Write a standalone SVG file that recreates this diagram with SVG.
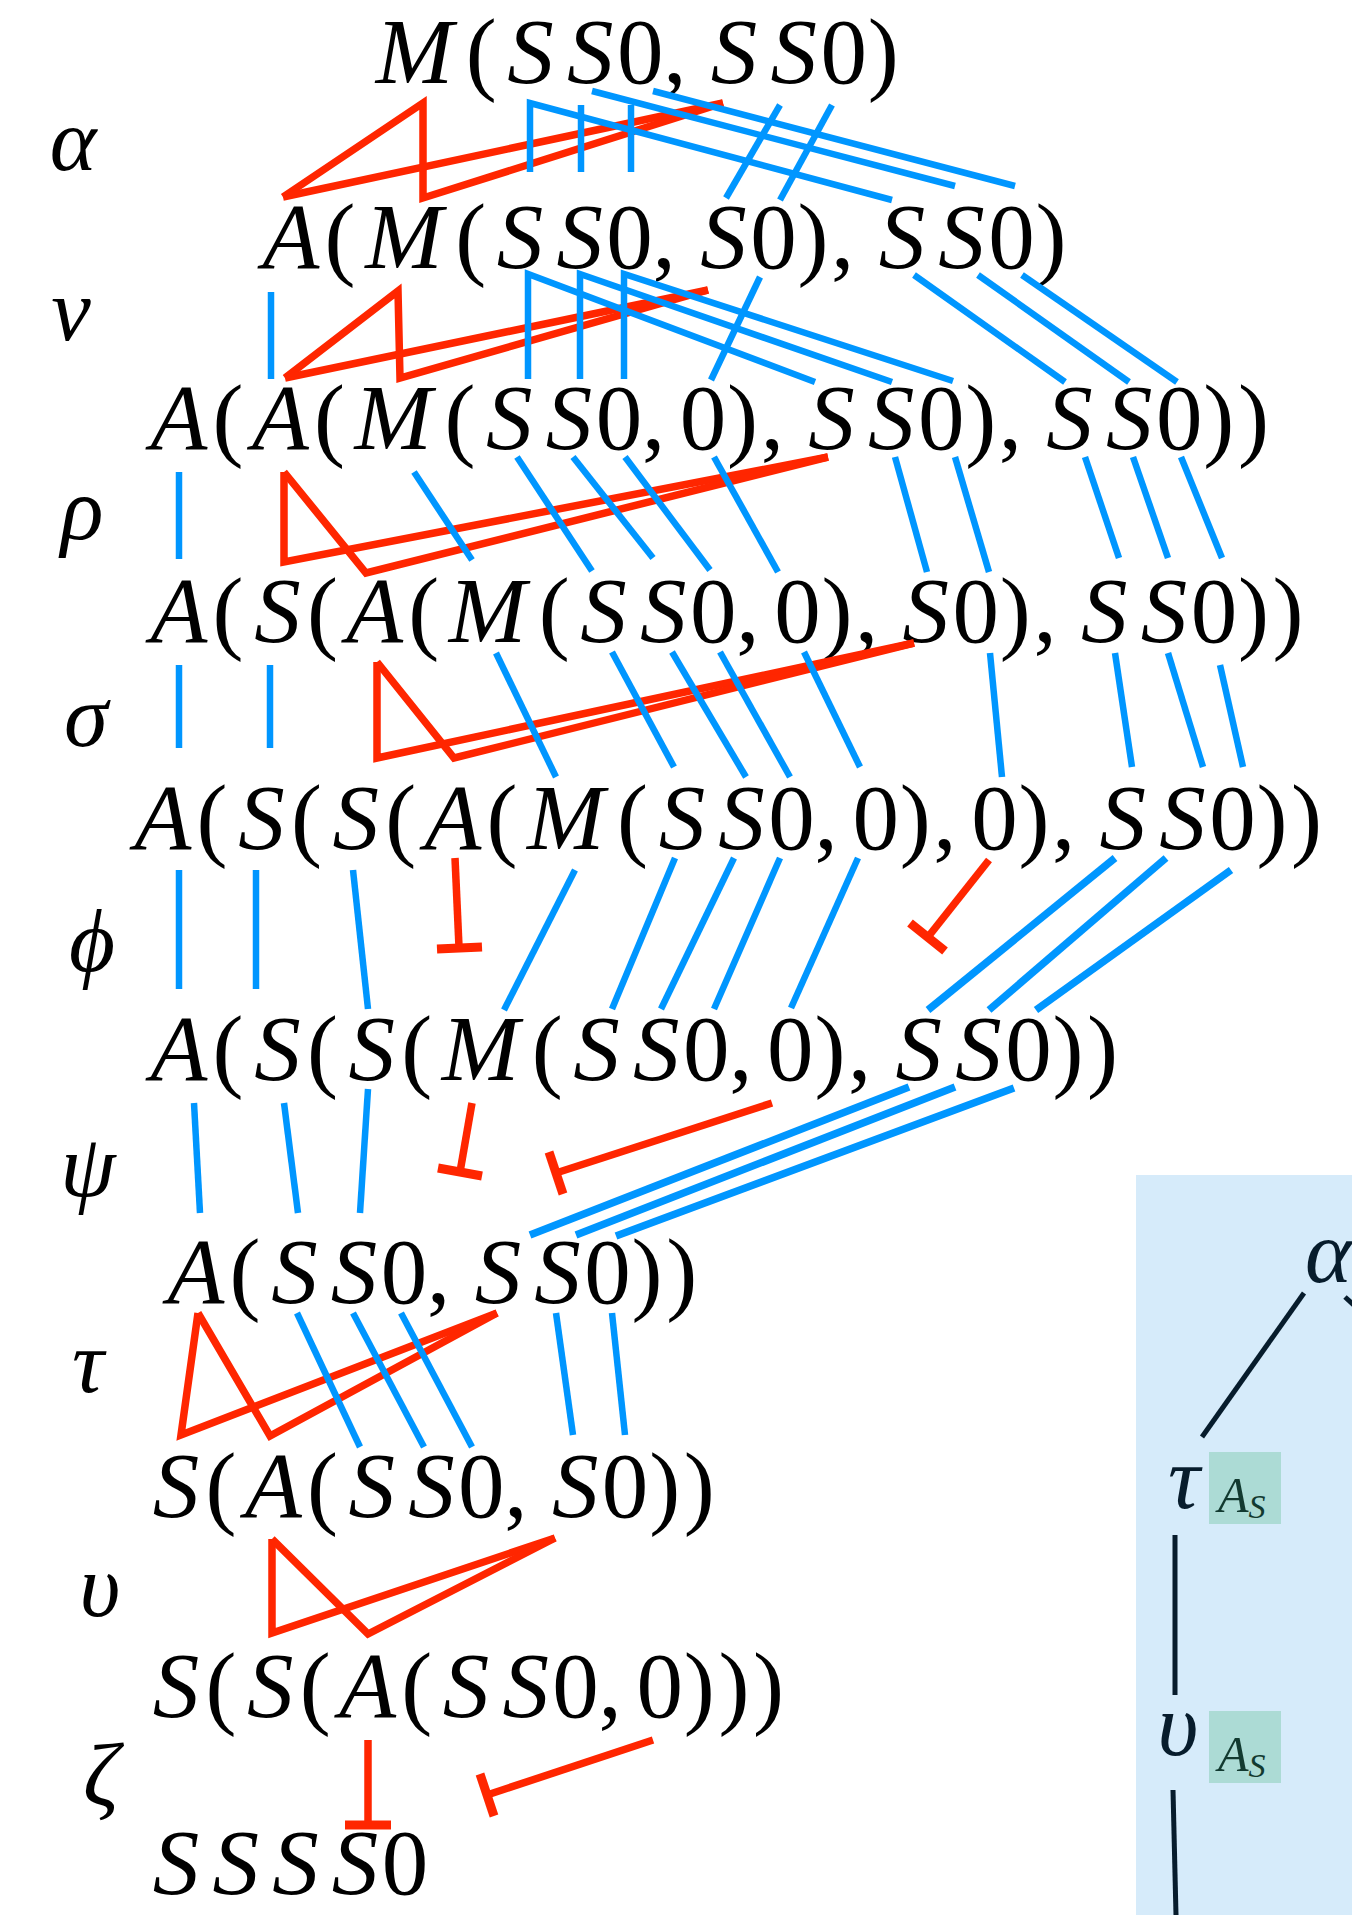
<svg xmlns="http://www.w3.org/2000/svg" width="1352" height="1915" viewBox="0 0 1352 1915">
<style>
.t{font-size:93px;fill:#000;text-anchor:middle}
.g{font-size:89px;fill:#000;text-anchor:middle}
.b{stroke:#0096ff;stroke-width:6.5;fill:none;stroke-linecap:butt;stroke-linejoin:miter}
.bw{stroke-width:7.5}
.r{stroke:#ff2600;stroke-width:7.5;fill:none;stroke-linecap:butt;stroke-linejoin:miter;stroke-miterlimit:20}
.rb{stroke:#ff2600;stroke-width:9;fill:none;stroke-linecap:butt}
.k{stroke:#071c2c;stroke-width:5;fill:none}
.pg{fill:#071c2c}
.as{fill:#123a30}
</style>
<rect width="1352" height="1915" fill="#fff"/>

<g id="row1">
<text class="t" y="83" font-family="Liberation Serif" font-style="italic"><tspan x="414.5">M</tspan><tspan x="530.6">S</tspan><tspan x="590.3">S</tspan><tspan x="734.1">S</tspan><tspan x="793.8">S</tspan></text>
<text class="t" y="83" font-family="Liberation Serif" font-style="normal"><tspan x="481.3">(</tspan><tspan x="640.3">0</tspan><tspan x="674.9">,</tspan><tspan x="843.8">0</tspan><tspan x="883.3">)</tspan></text>
</g>
<g id="row2">
<text class="t" y="268" font-family="Liberation Serif" font-style="italic"><tspan x="291">A</tspan><tspan x="403.9">M</tspan><tspan x="520">S</tspan><tspan x="579.7">S</tspan><tspan x="723.5">S</tspan><tspan x="901.9">S</tspan><tspan x="961.6">S</tspan></text>
<text class="t" y="268" font-family="Liberation Serif" font-style="normal"><tspan x="340.1">(</tspan><tspan x="470.7">(</tspan><tspan x="629.6">0</tspan><tspan x="664.2">,</tspan><tspan x="773.4">0</tspan><tspan x="813">)</tspan><tspan x="842.6">,</tspan><tspan x="1011.5">0</tspan><tspan x="1051.1">)</tspan></text>
</g>
<g id="row3">
<text class="t" y="449" font-family="Liberation Serif" font-style="italic"><tspan x="179">A</tspan><tspan x="280.4">A</tspan><tspan x="393.2">M</tspan><tspan x="509.3">S</tspan><tspan x="569">S</tspan><tspan x="831.5">S</tspan><tspan x="891.2">S</tspan><tspan x="1069.6">S</tspan><tspan x="1129.3">S</tspan></text>
<text class="t" y="449" font-family="Liberation Serif" font-style="normal"><tspan x="228.1">(</tspan><tspan x="329.4">(</tspan><tspan x="460">(</tspan><tspan x="619">0</tspan><tspan x="653.6">,</tspan><tspan x="703.1">0</tspan><tspan x="742.6">)</tspan><tspan x="772.3">,</tspan><tspan x="941.2">0</tspan><tspan x="980.7">)</tspan><tspan x="1010.4">,</tspan><tspan x="1179.3">0</tspan><tspan x="1218.8">)</tspan><tspan x="1253.4">)</tspan></text>
</g>
<g id="row4">
<text class="t" y="642" font-family="Liberation Serif" font-style="italic"><tspan x="179">A</tspan><tspan x="277.4">S</tspan><tspan x="374.7">A</tspan><tspan x="487.5">M</tspan><tspan x="603.6">S</tspan><tspan x="663.3">S</tspan><tspan x="925.8">S</tspan><tspan x="1104.2">S</tspan><tspan x="1163.9">S</tspan></text>
<text class="t" y="642" font-family="Liberation Serif" font-style="normal"><tspan x="228.1">(</tspan><tspan x="322.4">(</tspan><tspan x="423.7">(</tspan><tspan x="554.3">(</tspan><tspan x="713.3">0</tspan><tspan x="747.9">,</tspan><tspan x="797.4">0</tspan><tspan x="836.9">)</tspan><tspan x="866.6">,</tspan><tspan x="975.8">0</tspan><tspan x="1015.3">)</tspan><tspan x="1045">,</tspan><tspan x="1213.9">0</tspan><tspan x="1253.4">)</tspan><tspan x="1288">)</tspan></text>
</g>
<g id="row5">
<text class="t" y="849" font-family="Liberation Serif" font-style="italic"><tspan x="163">A</tspan><tspan x="261.4">S</tspan><tspan x="355.7">S</tspan><tspan x="453">A</tspan><tspan x="565.8">M</tspan><tspan x="681.9">S</tspan><tspan x="741.6">S</tspan><tspan x="1122.8">S</tspan><tspan x="1182.5">S</tspan></text>
<text class="t" y="849" font-family="Liberation Serif" font-style="normal"><tspan x="212.1">(</tspan><tspan x="306.4">(</tspan><tspan x="400.7">(</tspan><tspan x="502">(</tspan><tspan x="632.6">(</tspan><tspan x="791.6">0</tspan><tspan x="826.2">,</tspan><tspan x="875.7">0</tspan><tspan x="915.2">)</tspan><tspan x="944.9">,</tspan><tspan x="994.4">0</tspan><tspan x="1033.9">)</tspan><tspan x="1063.6">,</tspan><tspan x="1232.5">0</tspan><tspan x="1272">)</tspan><tspan x="1306.6">)</tspan></text>
</g>
<g id="row6">
<text class="t" y="1080" font-family="Liberation Serif" font-style="italic"><tspan x="179">A</tspan><tspan x="277.4">S</tspan><tspan x="371.7">S</tspan><tspan x="480.5">M</tspan><tspan x="596.6">S</tspan><tspan x="656.3">S</tspan><tspan x="918.8">S</tspan><tspan x="978.5">S</tspan></text>
<text class="t" y="1080" font-family="Liberation Serif" font-style="normal"><tspan x="228.1">(</tspan><tspan x="322.4">(</tspan><tspan x="416.7">(</tspan><tspan x="547.3">(</tspan><tspan x="706.2">0</tspan><tspan x="740.8">,</tspan><tspan x="790.3">0</tspan><tspan x="829.9">)</tspan><tspan x="859.5">,</tspan><tspan x="1028.4">0</tspan><tspan x="1068">)</tspan><tspan x="1102.6">)</tspan></text>
</g>
<g id="row7">
<text class="t" y="1303" font-family="Liberation Serif" font-style="italic"><tspan x="196">A</tspan><tspan x="294.4">S</tspan><tspan x="354.1">S</tspan><tspan x="497.9">S</tspan><tspan x="557.6">S</tspan></text>
<text class="t" y="1303" font-family="Liberation Serif" font-style="normal"><tspan x="245.1">(</tspan><tspan x="404">0</tspan><tspan x="438.6">,</tspan><tspan x="607.5">0</tspan><tspan x="647.1">)</tspan><tspan x="681.7">)</tspan></text>
</g>
<g id="row8">
<text class="t" y="1517" font-family="Liberation Serif" font-style="italic"><tspan x="176">S</tspan><tspan x="273.3">A</tspan><tspan x="371.7">S</tspan><tspan x="431.4">S</tspan><tspan x="575.2">S</tspan></text>
<text class="t" y="1517" font-family="Liberation Serif" font-style="normal"><tspan x="221">(</tspan><tspan x="322.4">(</tspan><tspan x="481.3">0</tspan><tspan x="515.9">,</tspan><tspan x="625.1">0</tspan><tspan x="664.7">)</tspan><tspan x="699.3">)</tspan></text>
</g>
<g id="row9">
<text class="t" y="1717" font-family="Liberation Serif" font-style="italic"><tspan x="176">S</tspan><tspan x="270.3">S</tspan><tspan x="367.6">A</tspan><tspan x="466">S</tspan><tspan x="525.7">S</tspan></text>
<text class="t" y="1717" font-family="Liberation Serif" font-style="normal"><tspan x="221">(</tspan><tspan x="315.3">(</tspan><tspan x="416.7">(</tspan><tspan x="575.6">0</tspan><tspan x="610.2">,</tspan><tspan x="659.7">0</tspan><tspan x="699.3">)</tspan><tspan x="733.9">)</tspan><tspan x="768.5">)</tspan></text>
</g>
<g id="row10">
<text class="t" y="1894" font-family="Liberation Serif" font-style="italic"><tspan x="176">S</tspan><tspan x="235.7">S</tspan><tspan x="295.4">S</tspan><tspan x="355.1">S</tspan></text>
<text class="t" y="1894" font-family="Liberation Serif" font-style="normal"><tspan x="405">0</tspan></text>
</g>

<g id="labels">
<g id="label-alpha"><text class="g" x="73" y="170" font-family="Liberation Serif" font-style="italic">α</text></g>
<g id="label-nu"><text class="g" x="71" y="340" font-family="Liberation Serif" font-style="italic">ν</text></g>
<g id="label-rho"><text class="g" x="82" y="539" font-family="Liberation Serif" font-style="italic">ρ</text></g>
<g id="label-sigma"><text class="g" x="86" y="746" font-family="Liberation Serif" font-style="italic">σ</text></g>
<g id="label-phi"><text class="g" x="92" y="971" font-family="Liberation Serif" font-style="italic">ϕ</text></g>
<g id="label-psi"><text class="g" x="88" y="1196" font-family="Liberation Serif" font-style="italic">ψ</text></g>
<g id="label-tau"><text class="g" x="88" y="1392" font-family="Liberation Serif" font-style="italic">τ</text></g>
<g id="label-upsilon"><text class="g" x="100" y="1616" font-family="Liberation Serif" font-style="italic">υ</text></g>
<g id="label-zeta"><text class="g" x="101" y="1805" font-family="Liberation Serif" font-style="italic">ζ</text></g>
</g>

<g id="panel">
<rect x="1136" y="1175" width="216" height="740" fill="#d6ebfa"/>
<text class="pg" x="1305" y="1282" font-size="89" font-family="Liberation Serif" font-style="italic">α</text>
<line class="k" x1="1304" y1="1293" x2="1202" y2="1437"/>
<line class="k" x1="1345" y1="1297" x2="1370" y2="1320"/>
<text class="pg" x="1184" y="1508" font-size="89" text-anchor="middle" font-family="Liberation Serif" font-style="italic">τ</text>
<rect x="1209" y="1452" width="72" height="72" fill="#acdbd5"/>
<text class="as" x="1218" y="1512" font-size="50" font-family="Liberation Serif" font-style="italic">A<tspan font-size="34" dy="6">S</tspan></text>
<line class="k" x1="1175" y1="1535" x2="1175" y2="1695"/>
<text class="pg" x="1178" y="1755" font-size="89" text-anchor="middle" font-family="Liberation Serif" font-style="italic">υ</text>
<rect x="1209" y="1711" width="72" height="72" fill="#acdbd5"/>
<text class="as" x="1218" y="1771" font-size="50" font-family="Liberation Serif" font-style="italic">A<tspan font-size="34" dy="6">S</tspan></text>
<line class="k" x1="1173" y1="1790" x2="1176" y2="1915"/>
</g>

<g id="connectors">
<g id="band-alpha">
<path class="r" d="M283,197 L423,103 L423,198 L723,103"/>
<path class="r" d="M283,197 L723,103"/>
<path class="b" d="M530,172 L530,103 L892,200"/>
<path class="b" d="M581,105 L581,172"/>
<path class="b" d="M631,105 L631,172"/>
<path class="b" d="M592,91 L955,186"/>
<path class="b" d="M653,91 L1015,186"/>
<path class="b" d="M780,105 L726,198"/>
<path class="b" d="M832,105 L780,200"/>
</g>
<g id="band-nu">
<path class="b" d="M271,292 L271,379"/>
<path class="r" d="M285,378 L398,291 L400,378 L708,290"/>
<path class="r" d="M285,378 L708,290"/>
<path class="b" d="M528,379 L528,274 L815,382"/>
<path class="b" d="M580,379 L580,274 L892,382"/>
<path class="b" d="M624,379 L624,274 L953,381"/>
<path class="b" d="M760,277 L711,380"/>
<path class="b" d="M914,275 L1065,382"/>
<path class="b" d="M978,275 L1129,382"/>
<path class="b" d="M1022,275 L1177,382"/>
</g>
<g id="band-rho">
<path class="b" d="M179,472 L179,559"/>
<path class="r" d="M284,472 L284,562 L828,457"/>
<path class="r" d="M284,472 L366,573 L828,457"/>
<path class="b" d="M414,472 L472,560"/>
<path class="b" d="M517,457 L592,571"/>
<path class="b" d="M573,457 L653,558"/>
<path class="b" d="M625,457 L710,570"/>
<path class="b" d="M714,457 L778,572"/>
<path class="b" d="M895,457 L927,572"/>
<path class="b" d="M955,457 L989,572"/>
<path class="b" d="M1085,457 L1119,558"/>
<path class="b" d="M1133,457 L1168,558"/>
<path class="b" d="M1181,457 L1222,558"/>
</g>
<g id="band-sigma">
<path class="b" d="M179,665 L179,748"/>
<path class="b" d="M270,665 L270,748"/>
<path class="r" d="M377,662 L377,758 L914,643"/>
<path class="r" d="M377,662 L454,758 L914,643"/>
<path class="b" d="M496,653 L556,777"/>
<path class="b" d="M612,652 L674,767"/>
<path class="b" d="M672,652 L746,777"/>
<path class="b" d="M720,652 L790,777"/>
<path class="b" d="M804,652 L860,767"/>
<path class="b" d="M990,653 L1002,777"/>
<path class="b" d="M1115,653 L1132,767"/>
<path class="b" d="M1168,653 L1203,767"/>
<path class="b" d="M1220,665 L1243,767"/>
</g>
<g id="band-phi">
<path class="b" d="M179,870 L179,989"/>
<path class="b" d="M256,870 L256,989"/>
<path class="b" d="M353,870 L368,1009"/>
<path class="r" d="M455,858 L459,947"/>
<path class="rb" d="M437,949 L482,947"/>
<path class="b" d="M575,870 L504,1010"/>
<path class="b" d="M675,858 L612,1009"/>
<path class="b" d="M734,858 L661,1009"/>
<path class="b" d="M780,858 L714,1009"/>
<path class="b" d="M858,858 L791,1008"/>
<path class="r" d="M989,860 L928,937"/>
<path class="rb" d="M910,923 L945,951"/>
<path class="b bw" d="M1115,858 L928,1010"/>
<path class="b bw" d="M1166,858 L989,1010"/>
<path class="b bw" d="M1231,870 L1036,1010"/>
</g>
<g id="band-psi">
<path class="b" d="M194,1103 L200,1213"/>
<path class="b" d="M284,1103 L298,1213"/>
<path class="b" d="M368,1089 L360,1213"/>
<path class="r" d="M472,1103 L460,1172"/>
<path class="rb" d="M438,1168 L482,1176"/>
<path class="r" d="M772,1103 L556,1173"/>
<path class="rb" d="M549,1152 L563,1194"/>
<path class="b bw" d="M909,1087 L530,1235"/>
<path class="b bw" d="M955,1087 L576,1235"/>
<path class="b bw" d="M1014,1088 L616,1236"/>
</g>
<g id="band-tau">
<path class="r" d="M198,1313 L181,1435 L497,1313"/>
<path class="r" d="M198,1313 L270,1436 L497,1313"/>
<path class="b" d="M297,1313 L360,1447"/>
<path class="b" d="M353,1313 L424,1447"/>
<path class="b" d="M401,1313 L472,1447"/>
<path class="b" d="M556,1313 L573,1435"/>
<path class="b" d="M612,1313 L625,1435"/>
</g>
<g id="band-upsilon">
<path class="r" d="M272,1539 L272,1633 L555,1538"/>
<path class="r" d="M272,1539 L368,1634 L555,1538"/>
</g>
<g id="band-zeta">
<path class="r" d="M368,1740 L368,1821"/>
<path class="rb" d="M345,1825 L391,1825"/>
<path class="r" d="M653,1740 L487,1795"/>
<path class="rb" d="M480,1774 L494,1816"/>
</g>
</g>
</svg>
